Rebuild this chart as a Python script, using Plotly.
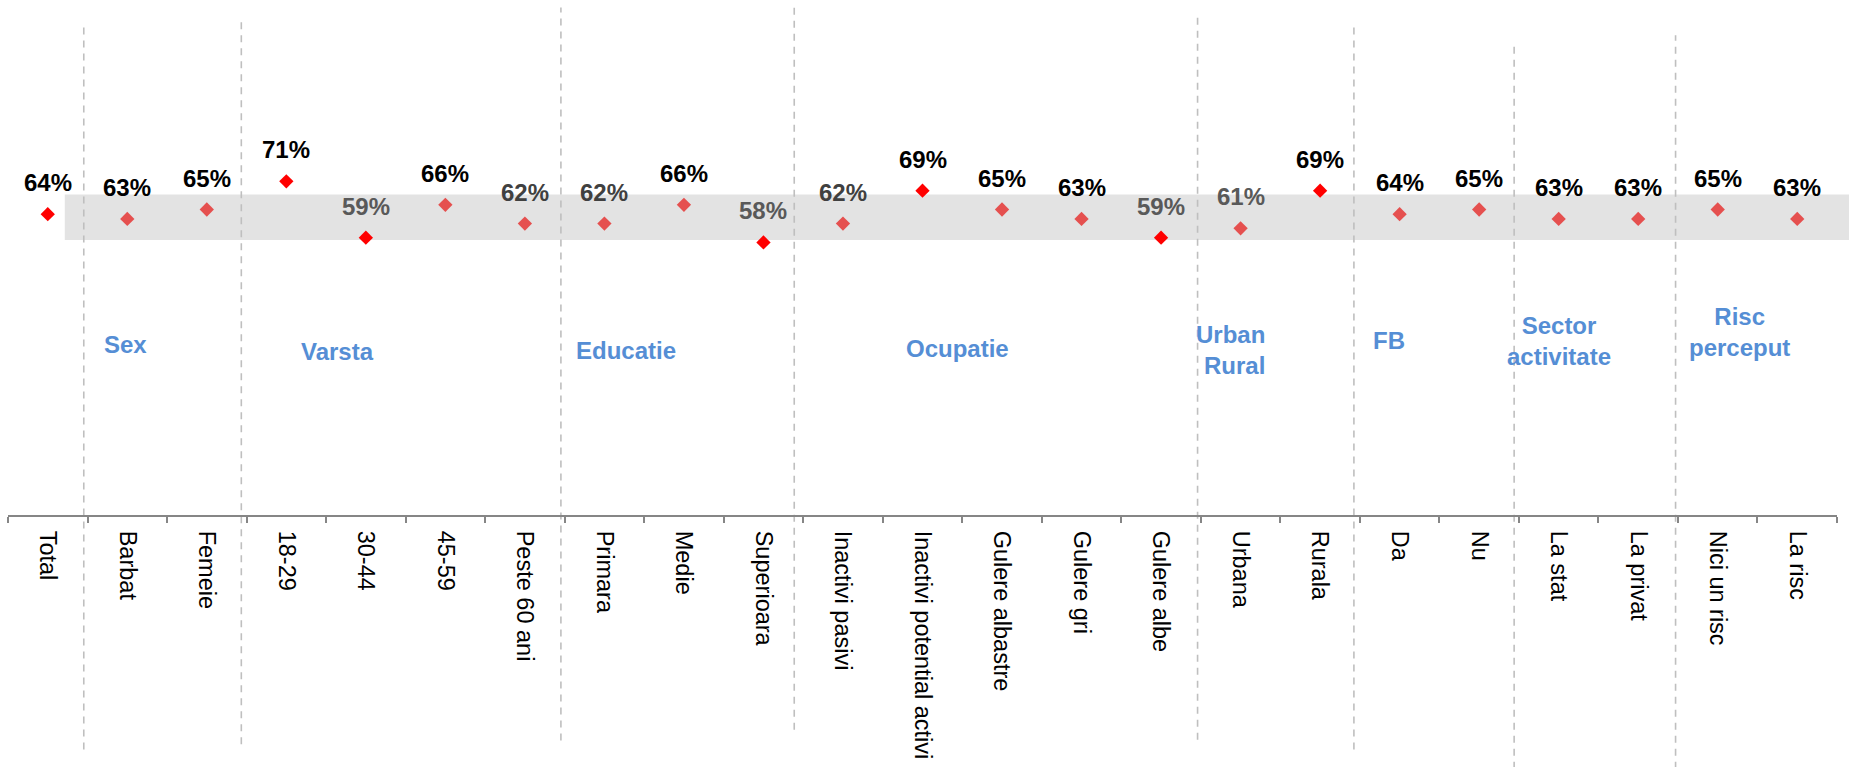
import plotly.graph_objects as go

# ---------------- data ----------------
categories = ["Total", "Barbat", "Femeie", "18-29", "30-44", "45-59", "Peste 60 ani",
              "Primara", "Medie", "Superioara", "Inactivi pasivi", "Inactivi potential activi",
              "Gulere albastre", "Gulere gri", "Gulere albe", "Urbana", "Rurala",
              "Da", "Nu", "La stat", "La privat", "Nici un risc", "La risc"]
values = [64, 63, 65, 71, 59, 66, 62,
          62, 66, 58, 62, 69,
          65, 63, 59, 61, 69,
          64, 65, 63, 63, 65, 63]
# highlighted (significant) points drawn in pure red
highlight = [True, False, False, True, True, False, False,
             False, False, True, False, True,
             False, False, True, False, True,
             False, False, False, False, False, False]
label_colors = ["#000000", "#000000", "#000000", "#000000", "#595959", "#000000", "#404040",
                "#404040", "#000000", "#595959", "#404040", "#000000",
                "#000000", "#000000", "#595959", "#595959", "#000000",
                "#000000", "#000000", "#000000", "#000000", "#000000", "#000000"]

group_names = ["Sex", "Varsta", "Educatie", "Ocupatie", "Urban<br>Rural", "FB",
               "Sector<br>activitate", "Risc<br>perceput"]
group_x = [0.98, 3.64, 7.27, 11.44, 15.33, 16.87, 19.0, 21.28]
group_y = [0.363, 0.348, 0.351, 0.355, 0.352, 0.371, 0.370, 0.390]
group_xanchor = ["center", "center", "center", "center", "right", "center", "center", "center"]
group_align = ["center", "center", "center", "center", "right", "center", "center", "center"]

# dashed separators between groups (category-index position, paper y extents)
sep_x = [0.453, 2.434, 6.453, 9.387, 14.459, 16.425, 18.44, 20.47]
sep_top = [1.044, 1.055, 1.080, 1.087, 1.065, 1.044, 1.004, 1.021]
sep_bottom = [-0.499, -0.488, -0.480, -0.457, -0.478, -0.499, -0.54, -0.54]

band_low, band_high = 58.5, 68.2   # shaded reference band (%)

RED = "#FF0000"
LIGHT_RED = "#E5504F"
BLUE = "#558ED5"
FONT = "Arial, Liberation Sans, sans-serif"

fig = go.Figure()

fig.add_trace(go.Scatter(
    x=categories, y=values, mode="markers",
    marker=dict(symbol="diamond", size=11,
                color=[RED if h else LIGHT_RED for h in highlight],
                line=dict(width=0)),
    hoverinfo="x+y", showlegend=False,
))

# band
fig.add_shape(type="rect", xref="paper", yref="y",
              x0=(0.214 + 0.5) / len(categories), x1=1.02,
              y0=band_low, y1=band_high,
              fillcolor="#E3E3E3", line=dict(width=0), layer="below")

# separators
for sx, st, sb in zip(sep_x, sep_top, sep_bottom):
    fig.add_shape(type="line", xref="x", yref="paper",
                  x0=sx, x1=sx, y0=sb, y1=st,
                  line=dict(color="#BFBFBF", width=1.6, dash="7px,6px"),
                  layer="below")

annotations = []
for c, v, col in zip(categories, values, label_colors):
    annotations.append(dict(
        x=c, y=v, xref="x", yref="y", text=f"{v}%", showarrow=False,
        xanchor="center", yanchor="bottom", yshift=16,
        font=dict(family=FONT, size=24, color=col, weight="bold")))

for name, gx, gy, xa, al in zip(group_names, group_x, group_y, group_xanchor, group_align):
    annotations.append(dict(
        x=gx, y=gy, xref="x", yref="paper", text=name, showarrow=False,
        xanchor=xa, yanchor="middle", align=al,
        font=dict(family=FONT, size=24, color=BLUE, weight="bold")))

fig.update_layout(
    width=1849, height=767,
    margin=dict(l=8, r=12, t=45, b=247, pad=0),
    paper_bgcolor="white", plot_bgcolor="white",
    showlegend=False,
    annotations=annotations,
    font=dict(family=FONT, color="#000000"),
    xaxis=dict(type="category", categoryorder="array", categoryarray=categories,
               range=[-0.5, len(categories) - 0.5],
               showgrid=False, zeroline=False,
               showline=True, linecolor="#868686", linewidth=2,
               ticks="outside", tickson="boundaries", ticklen=6, tickwidth=1.5,
               tickcolor="#868686", tickangle=90, ticklabelstandoff=9,
               tickfont=dict(family=FONT, size=23.5, color="#000000")),
    yaxis=dict(range=[0, 100], visible=False, showgrid=False, zeroline=False),
)

fig.write_html("out.html",
               config={"displayModeBar": False},
               post_script="document.body.style.margin='0';document.body.style.overflow='hidden';")
